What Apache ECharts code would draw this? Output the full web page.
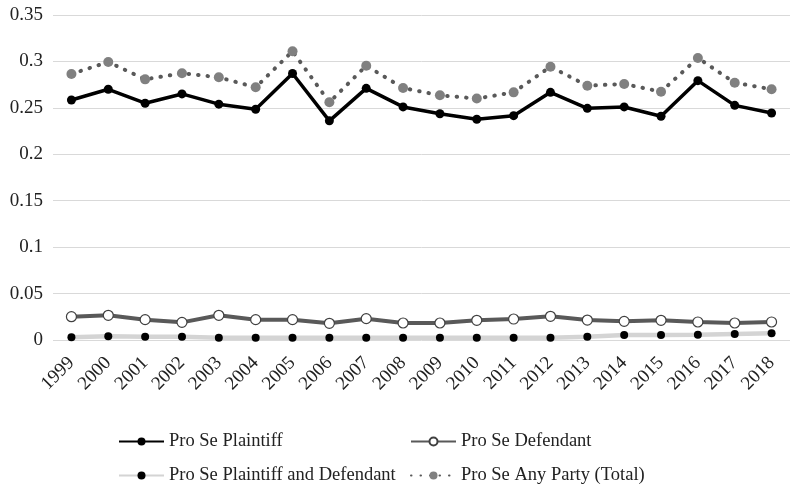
<!DOCTYPE html>
<html>
<head>
<meta charset="utf-8">
<script src="https://cdn.jsdelivr.net/npm/echarts@6/dist/echarts.min.js"></script>
<style>
html,body{margin:0;padding:0;background:#fff;}
#chart{width:790px;height:493px;}
</style>
</head>
<body>
<div id="chart"></div>
<script>
var years = ['1999','2000','2001','2002','2003','2004','2005','2006','2007','2008','2009','2010','2011','2012','2013','2014','2015','2016','2017','2018'];
var plaintiff = [0.2585,0.270,0.255,0.265,0.254,0.2485,0.287,0.236,0.271,0.251,0.2437,0.2377,0.2416,0.2667,0.2495,0.251,0.241,0.2793,0.2527,0.2445];
var defendant = [0.0251,0.0266,0.0219,0.019,0.0266,0.0219,0.0219,0.018,0.023,0.0183,0.0183,0.0212,0.0226,0.0255,0.0215,0.0201,0.0212,0.0194,0.0183,0.0194];
var both = [0.0029,0.0040,0.0036,0.0036,0.0025,0.0025,0.0025,0.0025,0.0025,0.0025,0.0025,0.0025,0.0025,0.0025,0.0036,0.0054,0.0054,0.0057,0.0065,0.0072];
var anyParty = [0.2865,0.2994,0.2807,0.2872,0.2829,0.2721,0.311,0.256,0.2954,0.2714,0.2635,0.260,0.2667,0.2943,0.2739,0.2757,0.2674,0.3037,0.2771,0.270];
var seriesNames = ['Pro Se Plaintiff','Pro Se Defendant','Pro Se Plaintiff and Defendant','Pro Se Any Party (Total)'];

var FONT = 'Liberation Serif';
var chart = echarts.init(document.getElementById('chart'));

function leg(name, left, top) {
  return {
    data: [name], left: left, top: top, orient: 'horizontal',
    itemWidth: 45, itemHeight: 10, itemGap: 8, padding: 0,
    textStyle: {fontFamily: FONT, fontSize: 18.5, color: '#222'}
  };
}

chart.setOption({
  animation: false,
  backgroundColor: '#fff',
  textStyle: {fontFamily: FONT},
  grid: {left: 53, top: 15, width: 745, height: 325, containLabel: false},
  legend: [
    leg(seriesNames[0], 118, 432),
    leg(seriesNames[1], 410, 432),
    leg(seriesNames[2], 118, 466),
    leg(seriesNames[3], 410, 466)
  ],
  xAxis: {
    type: 'category', data: years, boundaryGap: true,
    axisLine: {show: false}, axisTick: {show: false},
    axisLabel: {rotate: 45, margin: 20, fontFamily: FONT, fontSize: 19, color: '#222', interval: 0}
  },
  yAxis: {
    type: 'value', min: 0, max: 0.35, interval: 0.05,
    axisLine: {show: false}, axisTick: {show: false},
    splitLine: {lineStyle: {color: '#d9d9d9', width: 1}},
    axisLabel: {margin: 10, fontFamily: FONT, fontSize: 19, color: '#222'}
  },
  series: [
    {
      name: seriesNames[2], type: 'line', data: both, z: 2,
      symbol: 'circle', symbolSize: 8,
      lineStyle: {color: '#d4d4d4', width: 4.5},
      itemStyle: {color: '#000'}
    },
    {
      name: seriesNames[1], type: 'line', data: defendant, z: 3,
      symbol: 'circle', symbolSize: 10,
      lineStyle: {color: '#595959', width: 4},
      itemStyle: {color: '#fff', borderColor: '#404040', borderWidth: 1.2}
    },
    {
      name: seriesNames[3], type: 'line', data: anyParty, z: 4,
      symbol: 'circle', symbolSize: 10,
      lineStyle: {color: '#595959', width: 4, type: [0.5, 9], cap: 'round'},
      itemStyle: {color: '#808080'}
    },
    {
      name: seriesNames[0], type: 'line', data: plaintiff, z: 5,
      symbol: 'circle', symbolSize: 9,
      lineStyle: {color: '#000', width: 3.5},
      itemStyle: {color: '#000'}
    }
  ]
});
</script>
</body>
</html>
